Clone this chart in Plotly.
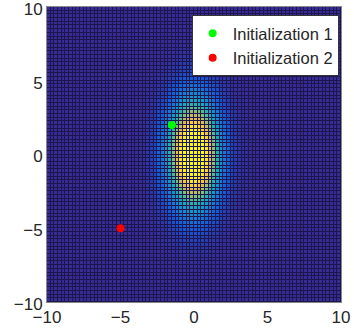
import numpy as np
import plotly.graph_objects as go

# Gaussian surface parameters
center = [0.0, 0.0]
sigma = [1.1, 2.3]
color_max = [0.8]
grid_step = [0.25]
axis_range = [-10, 10]
tick_vals = [-10, -5, 0, 5, 10]

# Initialization points
init_names = ["Initialization 1", "Initialization 2"]
init_x = [-1.5, -5.0]
init_y = [2.0, -5.0]
init_colors = ["#00ff00", "#ff0000"]

step = grid_step[0]
xc = np.arange(axis_range[0] + step / 2, axis_range[1], step)
yc = np.arange(axis_range[0] + step / 2, axis_range[1], step)
X, Y = np.meshgrid(xc, yc)
Z = np.exp(-0.5 * (((X - center[0]) / sigma[0]) ** 2 + ((Y - center[1]) / sigma[1]) ** 2))

parula = [
    [0.0, "rgb(55,44,150)"], [0.1, "rgb(15,92,221)"], [0.2, "rgb(18,125,216)"],
    [0.3, "rgb(7,156,207)"], [0.4, "rgb(21,177,180)"], [0.5, "rgb(89,189,140)"],
    [0.6, "rgb(165,190,107)"], [0.7, "rgb(225,185,82)"], [0.8, "rgb(252,206,46)"],
    [0.9, "rgb(250,232,33)"], [1.0, "rgb(249,251,14)"],
]

fig = go.Figure()
fig.add_trace(go.Heatmap(x=xc, y=yc, z=Z, colorscale=parula, showscale=False,
                         zmin=0, zmax=color_max[0],
                         xgap=1, ygap=1, hoverinfo="skip", showlegend=False))
for n, x, y, c in zip(init_names, init_x, init_y, init_colors):
    fig.add_trace(go.Scatter(x=[x], y=[y], mode="markers", name=n,
                             marker=dict(color=c, size=8)))

font = "Liberation Sans, Arial, sans-serif"
fig.update_layout(
    width=354, height=335,
    margin=dict(l=47, r=13, t=7, b=33),
    paper_bgcolor="white", plot_bgcolor="#1c164c",
    font=dict(family=font, size=17, color="#262626"),
    xaxis=dict(range=axis_range, tickvals=tick_vals, showgrid=False, zeroline=False,
               showline=True, linecolor="#888888", mirror=True, ticks="",
               ticklabeloverflow="allow", automargin=False),
    yaxis=dict(range=axis_range, tickvals=tick_vals, showgrid=False, zeroline=False,
               showline=True, linecolor="#888888", mirror=True, ticks="",
               ticklabeloverflow="allow", automargin=False, ticklabelshift=2),
    legend=dict(x=0.992, y=0.973, xanchor="right", yanchor="top",
                bgcolor="white", bordercolor="#333333", borderwidth=1,
                font=dict(size=16.5, family=font, color="#262626"),
                itemwidth=30, tracegroupgap=0),
)
fig.write_html("out.html", config={"displayModeBar": False},
               post_script="document.body.style.margin='0';document.body.style.overflow='hidden';")
